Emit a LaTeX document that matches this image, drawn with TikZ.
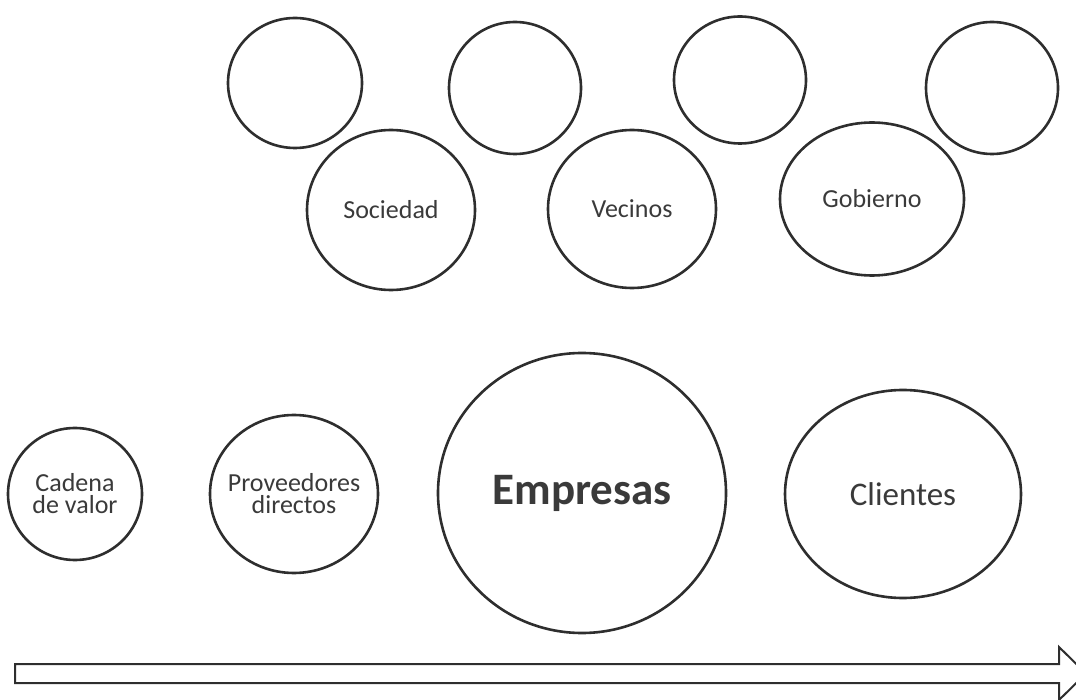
\documentclass[tikz,border=0pt]{standalone}
\usepackage{fontspec}
\setmainfont{Carlito}
\usetikzlibrary{shapes.geometric}
\definecolor{ink}{HTML}{2E2E2E}
\definecolor{txt}{HTML}{3A3A3A}
\begin{document}
\begin{tikzpicture}[x=1pt,y=-1pt,
  blob/.style={ellipse,draw=ink,line width=2.6pt,inner sep=0pt},
  lbl/.style={align=center,text=txt,inner sep=0pt,font=\fontsize{26}{22}\selectfont},
  biglbl/.style={lbl,font=\fontsize{33}{33}\selectfont},
  hugelbl/.style={lbl,font=\bfseries\fontsize{45}{45}\selectfont},
  band/.style={draw=ink,line width=2pt,line join=miter}]
\useasboundingbox (0,0) rectangle (1076,700);
\clip (0,0) rectangle (1076,700);
% top row of empty circles
\node[blob,minimum width=134pt,minimum height=130pt] (e1) at (295,83) {};
\node[blob,minimum width=132pt,minimum height=132pt] (e2) at (515,88) {};
\node[blob,minimum width=132pt,minimum height=127pt] (e3) at (740,80) {};
\node[blob,minimum width=132pt,minimum height=132pt] (e4) at (992,88) {};
% labelled second row
\node[blob,minimum width=168pt,minimum height=160pt] (soc) at (391,210) {};
\node[lbl] (socT) at (soc.center) {Sociedad};
\node[blob,minimum width=168pt,minimum height=158pt] (vec) at (632,209) {};
\node[lbl] (vecT) at (vec.center) {Vecinos};
\node[blob,minimum width=184pt,minimum height=153pt] (gob) at (872,199) {};
\node[lbl] (gobT) at (gob.center) {Gobierno};
% bottom row
\node[blob,minimum width=134pt,minimum height=132pt] (cad) at (75,494) {};
\node[lbl] (cadT) at (cad.center) {Cadena\\de valor};
\node[blob,minimum width=168pt,minimum height=158pt] (pro) at (294,494) {};
\node[lbl] (proT) at (pro.center) {Proveedores\\directos};
\node[blob,minimum width=288pt,minimum height=280pt] (emp) at (582,493) {};
\node[hugelbl] (empT) at (emp.center) {Empresas};
\node[blob,minimum width=236pt,minimum height=208pt] (cli) at (903,494) {};
\node[biglbl] (cliT) at (cli.center) {Clientes};
% arrow
\draw[band] (15,664) -- (1059,664) -- (1059,647) -- (1086,673.5) -- (1059,700) -- (1059,683) -- (15,683) -- cycle;
\end{tikzpicture}
\end{document}
